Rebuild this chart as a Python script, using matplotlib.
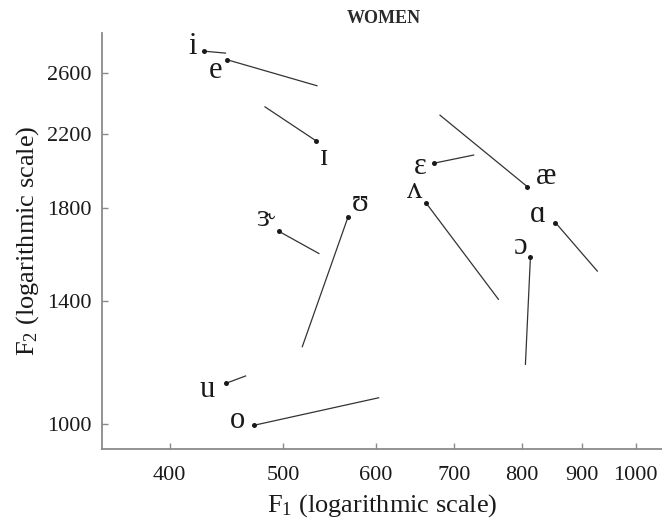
import matplotlib
matplotlib.use("Agg")
import matplotlib.pyplot as plt
from matplotlib.ticker import FixedLocator, NullLocator, FixedFormatter

plt.rcParams["font.family"] = ["Liberation Serif", "DejaVu Serif"]
plt.rcParams["mathtext.fontset"] = "custom"
plt.rcParams["mathtext.rm"] = "Liberation Serif"
plt.rcParams["mathtext.it"] = "Liberation Serif:italic"

# ── Formant trajectories (Hz): dot marks onset, line runs to offset ──
vowels   = ["i",  "e",  "ɪ",  "ɝ",  "ʊ",  "u",  "o",  "ɛ",  "æ",  "ʌ",  "ɑ",  "ɔ"]
f1_start = [428,  448,  533,  496,  568,  447,  472,  673,  808,  662,  854,  813]
f2_start = [2760, 2696, 2164, 1690, 1757, 1118, 997,  2035, 1909, 1827, 1731, 1575]
f1_end   = [447,  535,  482,  537,  519,  465,  604,  728,  680,  764,  928,  805]
f2_end   = [2745, 2511, 2374, 1590, 1233, 1141, 1075, 2081, 2321, 1403, 1515, 1175]

x_ticks = [400, 500, 600, 700, 800, 900, 1000]
y_ticks = [1000, 1400, 1800, 2200, 2600]

# label offsets from the onset dot, in pixels
LABEL_OFFSETS = {
    "i": (-11, 5), "e": (-12, -11), "ɪ": (8, -17), "ɝ": (-14, 13),
    "ʊ": (12, 14), "u": (-19, -6), "o": (-16, 5), "ɛ": (-14, -3),
    "æ": (19, 10), "ʌ": (-11, 12), "ɑ": (-18, 8), "ɔ": (-11, 11),
}

INK = "#1a1a1a"

fig = plt.figure(figsize=(6.62, 5.21), dpi=100)
ax = fig.add_axes([0.1536, 0.1376, 0.8464, 0.7991])

for v, x0, y0, x1, y1 in zip(vowels, f1_start, f2_start, f1_end, f2_end):
    ax.plot([x0, x1], [y0, y1], color="#333333", lw=0.9, solid_capstyle="butt")
    ax.plot([x0], [y0], "o", color=INK, ms=3.6, mec="none")
    dx, dy = LABEL_OFFSETS[v]
    ax.annotate(v, (x0, y0), xytext=(dx, dy), textcoords="offset pixels",
                ha="center", va="center", fontsize=22, color=INK)

ax.set_xscale("log")
ax.set_yscale("log")
ax.set_xlim(350, 1053)
ax.set_ylim(934, 2900)

ax.xaxis.set_major_locator(FixedLocator(x_ticks))
ax.xaxis.set_major_formatter(FixedFormatter([str(t) for t in x_ticks]))
ax.xaxis.set_minor_locator(NullLocator())
ax.yaxis.set_major_locator(FixedLocator(y_ticks))
ax.yaxis.set_major_formatter(FixedFormatter([str(t) for t in y_ticks]))
ax.yaxis.set_minor_locator(NullLocator())

for side in ("top", "right"):
    ax.spines[side].set_visible(False)
for side in ("left", "bottom"):
    ax.spines[side].set_color("#8a8a8a")
    ax.spines[side].set_linewidth(1.3)

ax.tick_params(axis="both", direction="in", length=4, width=1.0,
               color="#8a8a8a", labelsize=16, labelcolor=INK)
ax.tick_params(axis="x", pad=12)
ax.tick_params(axis="y", pad=7)

ax.set_xlabel(r"F$_{\mathrm{1}}$ (logarithmic scale)", fontsize=19,
              color=INK, labelpad=5)
ax.set_ylabel(r"F$_{\mathrm{2}}$ (logarithmic scale)", fontsize=19,
              color=INK, labelpad=5)

fig.text(0.58, 0.965, "WOMEN", ha="center", va="center", fontsize=13,
         fontweight="bold", color="#2a2a2a")

fig.savefig("out.png", dpi=100)
